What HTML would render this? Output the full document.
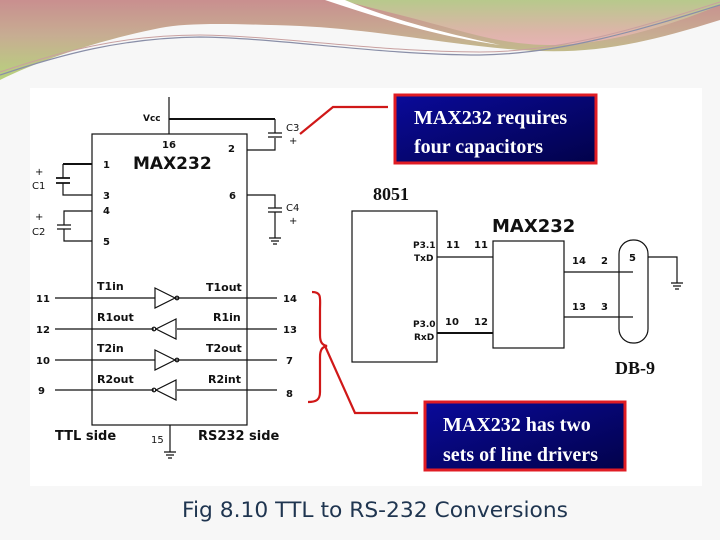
<!DOCTYPE html>
<html><head><meta charset="utf-8"><style>
html,body{margin:0;padding:0;width:720px;height:540px;overflow:hidden;background:#f7f7f7}
svg{display:block}
.s{font-family:"DejaVu Sans","Liberation Sans",sans-serif;font-weight:bold;fill:#111}
.r{font-family:"Liberation Serif",serif;font-weight:bold;fill:#111}
.w{font-family:"Liberation Serif",serif;fill:#fff;font-size:20px;font-weight:bold}
</style></head><body>
<svg width="720" height="540" viewBox="0 0 720 540" xmlns="http://www.w3.org/2000/svg">
<defs>
<linearGradient id="g1" x1="0" y1="0" x2="0" y2="1"><stop offset="0" stop-color="#c98f8f"/><stop offset="0.45" stop-color="#c7ad92"/><stop offset="1" stop-color="#b7d37c"/></linearGradient>
<linearGradient id="g2" x1="0" y1="0" x2="0" y2="1"><stop offset="0" stop-color="#b7c98c"/><stop offset="0.7" stop-color="#dcb5a8"/><stop offset="1" stop-color="#e6b4b4"/></linearGradient>
<linearGradient id="nv" x1="0" y1="0" x2="1" y2="1"><stop offset="0" stop-color="#0a0a9a"/><stop offset="1" stop-color="#02024a"/></linearGradient>
</defs>
<rect width="720" height="540" fill="#f7f7f7"/>
<path d="M0 0 H720 V20 C640 45 590 55 520 50 C450 45 380 30 300 26 C240 24 190 22 160 28 C100 40 40 60 0 80 Z" fill="url(#g1)"/>
<path d="M340 0 H720 V5 C660 30 600 45 550 45 C500 45 460 30 400 15 Z" fill="url(#g2)"/>
<path d="M325 0 H345 C380 15 430 30 500 45 C430 35 380 18 325 0 Z" fill="#fff"/>
<path d="M0 75 C60 55 120 38 200 37 C280 38 380 55 480 55 C560 54 640 30 720 5" fill="none" stroke="#8a8fa8" stroke-width="1.2"/>
<path d="M0 72 C60 52 120 35 200 35 C280 36 380 52 480 52 C560 52 640 28 720 2" fill="none" stroke="#c9a0a0" stroke-width="1"/>
<rect x="30" y="88" width="672" height="398" fill="#fff"/>
<g stroke="#111" stroke-width="1.2" fill="none">
<rect x="92" y="134" width="155" height="291"/>
<path d="M169 97 V134"/>
<path d="M275 119 V133 M275 138 V150 H247"/>
<path d="M169 119 H275" stroke-width="2"/>
<path d="M268 133 H282 M268 137 H282"/>
<path d="M63 164 V178 M63 183 V195 H92"/>
<path d="M92 164 H63" stroke-width="2"/>
<path d="M56 178 H70 M56 183 H70" stroke-width="1.8"/>
<path d="M92 211 H64 V225 M64 229 V241 H92"/>
<path d="M57 225 H71 M57 229 H71"/>
<path d="M247 195 H275 V208 M275 212 V238"/>
<path d="M268 208 H282 M268 212 H282"/>
<path d="M269 238 H281 M271 241 H279 M273 244 H277"/>
<path d="M55 298 H155 M175 298 H277"/>
<path d="M55 329 H154 M177 329 H277"/>
<path d="M55 360 H155 M175 360 H277"/>
<path d="M55 390 H154 M177 390 H277"/>
<path d="M155 288 L175 298 L155 308 Z"/>
<path d="M155 350 L175 360 L155 370 Z"/>
<path d="M176 319 L156 329 L176 339 Z"/>
<path d="M176 380 L156 390 L176 400 Z"/>
<circle cx="177" cy="298" r="1.8"/><circle cx="177" cy="360" r="1.8"/>
<circle cx="154" cy="329" r="1.8"/><circle cx="154" cy="390" r="1.8"/>
<path d="M170 425 V452 M164 452 H176 M166 455 H174 M168 458 H172"/>
<rect x="352" y="211" width="85" height="151"/>
<rect x="493" y="241" width="71" height="107"/>
<path d="M437 257 H493"/>
<path d="M437 333 H493" stroke-width="2"/>
<path d="M564 272 H633 M564 317 H633"/>
<rect x="619" y="240" width="29" height="103" rx="14"/>
<path d="M648 257 H677 V283 M671 283 H683 M673 286 H681 M675 289 H679"/>
</g>
<g class="s" font-size="10">
<text x="143" y="121" font-size="9">Vcc</text>
<text x="162" y="148">16</text>
<text x="228" y="152">2</text>
<text x="103" y="168">1</text>
<text x="103" y="199">3</text>
<text x="103" y="214">4</text>
<text x="103" y="245">5</text>
<text x="229" y="199">6</text>
<text x="35" y="175" font-weight="normal">+</text>
<text x="32" y="189" font-weight="normal">C1</text>
<text x="35" y="220" font-weight="normal">+</text>
<text x="32" y="235" font-weight="normal">C2</text>
<text x="286" y="131" font-weight="normal">C3</text>
<text x="289" y="144" font-weight="normal">+</text>
<text x="286" y="211" font-weight="normal">C4</text>
<text x="289" y="224" font-weight="normal">+</text>
<text x="36" y="302">11</text><text x="36" y="333">12</text><text x="36" y="364">10</text><text x="38" y="394">9</text>
<text x="283" y="302">14</text><text x="283" y="333">13</text><text x="286" y="364">7</text><text x="286" y="397">8</text>
<text x="97" y="290" font-size="11">T1in</text>
<text x="206" y="291" font-size="11">T1out</text>
<text x="97" y="321" font-size="11">R1out</text>
<text x="213" y="321" font-size="11">R1in</text>
<text x="97" y="352" font-size="11">T2in</text>
<text x="206" y="352" font-size="11">T2out</text>
<text x="97" y="383" font-size="11">R2out</text>
<text x="208" y="383" font-size="11">R2int</text>
<text x="55" y="440" font-size="13">TTL side</text>
<text x="151" y="443" font-weight="normal">15</text>
<text x="198" y="440" font-size="13">RS232 side</text>
<text x="133" y="169" font-size="17">MAX232</text>
<text x="413" y="248" font-size="9">P3.1</text>
<text x="414" y="261" font-size="9">TxD</text>
<text x="413" y="327" font-size="9">P3.0</text>
<text x="414" y="340" font-size="9">RxD</text>
<text x="446" y="248">11</text><text x="474" y="248">11</text>
<text x="445" y="325">10</text><text x="474" y="325">12</text>
<text x="572" y="264">14</text><text x="601" y="264">2</text>
<text x="572" y="310">13</text><text x="601" y="310">3</text>
<text x="629" y="261">5</text>
<text x="492" y="232" font-size="18">MAX232</text>
</g>
<text class="r" x="373" y="200" font-size="18">8051</text>
<text class="r" x="615" y="374" font-size="18">DB-9</text>
<path d="M312 292 C322 292 320 298 320 310 V335 C320 342 322 345 327 346 C322 347 320 350 320 357 V392 C320 400 316 402 308 402" fill="none" stroke="#d01818" stroke-width="2.2"/>
<path d="M325 346 L355 413 H418" fill="none" stroke="#d01818" stroke-width="2.2"/>
<path d="M300 134 L333 107 H388" fill="none" stroke="#d01818" stroke-width="2.2"/>
<rect x="395" y="95" width="201" height="68" fill="url(#nv)" stroke="#e01c24" stroke-width="3"/>
<text class="w" x="414" y="124">MAX232 requires</text>
<text class="w" x="414" y="153">four capacitors</text>
<rect x="425" y="402" width="200" height="68" fill="url(#nv)" stroke="#e01c24" stroke-width="3"/>
<text class="w" x="443" y="431">MAX232 has two</text>
<text class="w" x="443" y="461">sets of line drivers</text>
<text x="182" y="517" font-family="DejaVu Sans, Liberation Sans, sans-serif" font-size="21" fill="#1f3550" textLength="386" lengthAdjust="spacingAndGlyphs">Fig  8.10 TTL to RS-232 Conversions</text>
</svg>
</body></html>
